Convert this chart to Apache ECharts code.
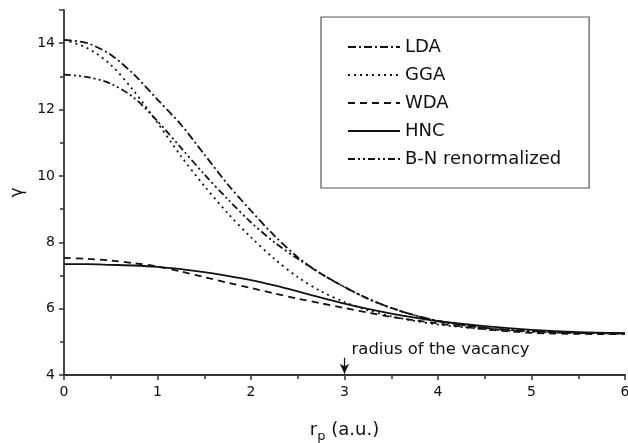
<!DOCTYPE html>
<html>
<head>
<meta charset="utf-8">
<script src="https://cdn.jsdelivr.net/npm/echarts@6/dist/echarts.min.js"></script>
<style>
  html, body { margin: 0; padding: 0; background: #fff; }
  #chart { width: 628px; height: 443px; }
</style>
</head>
<body>
<div id="chart"></div>
<script>
// r_p (a.u.) sample points
var rp = [0, 0.25, 0.5, 0.75, 1.0, 1.25, 1.5, 1.75, 2.0, 2.25, 2.5, 2.75, 3.0, 3.25, 3.5, 3.75, 4.0, 4.5, 5.0, 5.5, 6.0];

var lda = [14.10, 14.00, 13.65, 13.05, 12.30, 11.55, 10.65, 9.75, 8.95, 8.20, 7.55, 7.05, 6.65, 6.30, 6.02, 5.80, 5.63, 5.42, 5.32, 5.27, 5.25];
var gga = [14.10, 13.85, 13.35, 12.55, 11.60, 10.60, 9.70, 8.88, 8.15, 7.50, 6.95, 6.52, 6.20, 5.95, 5.77, 5.63, 5.52, 5.38, 5.30, 5.26, 5.25];
var wda = [7.53, 7.50, 7.45, 7.37, 7.27, 7.12, 6.95, 6.78, 6.62, 6.46, 6.30, 6.16, 6.02, 5.88, 5.75, 5.65, 5.55, 5.38, 5.27, 5.24, 5.23];
var hnc = [7.34, 7.34, 7.32, 7.30, 7.26, 7.19, 7.10, 6.99, 6.86, 6.70, 6.52, 6.33, 6.15, 5.99, 5.85, 5.73, 5.62, 5.47, 5.36, 5.29, 5.26];
var bn  = [13.05, 12.98, 12.78, 12.35, 11.65, 10.85, 10.05, 9.30, 8.60, 8.00, 7.50, 7.05, 6.65, 6.30, 6.02, 5.80, 5.63, 5.42, 5.32, 5.27, 5.25];

var xTicks = [0, 1, 2, 3, 4, 5, 6];
var yTicks = [4, 6, 8, 10, 12, 14];

var vacancyR = 3;

function pairs(ys) {
  return rp.map(function (x, i) { return [x, ys[i]]; });
}

var chart = echarts.init(document.getElementById('chart'));
var font = 'DejaVu Sans, sans-serif';

function line(name, ys, type) {
  return {
    name: name,
    type: 'line',
    data: pairs(ys),
    smooth: 0.3,
    symbol: 'none',
    lineStyle: { color: '#111', width: 1.8, type: type },
    itemStyle: { color: '#111' }
  };
}

var series = [
  line('LDA', lda, [8, 3, 2, 3]),
  line('GGA', gga, [2, 4]),
  line('WDA', wda, [7, 5]),
  line('HNC', hnc, 'solid'),
  line('B-N renormalized', bn, [7, 3, 2, 3, 2, 3])
];

// arrow marking the vacancy radius
series[3].markLine = {
  silent: true,
  symbol: ['none', 'arrow'],
  symbolSize: [7, 10],
  lineStyle: { color: '#111', width: 1.2, type: 'solid' },
  label: { show: false },
  data: [[{ coord: [vacancyR, 4.52] }, { coord: [vacancyR, 4.04] }]]
};
series[3].markPoint = {
  silent: true,
  symbol: 'circle',
  symbolSize: 0,
  label: {
    show: true,
    position: 'right',
    distance: 7,
    offset: [0, 1],
    formatter: 'radius of the vacancy',
    color: '#111',
    fontFamily: font,
    fontSize: 16.5
  },
  data: [{ coord: [vacancyR, 4.78] }]
};

chart.setOption({
  animation: false,
  backgroundColor: '#fff',
  grid: { left: 64, right: 3, top: 10, bottom: 68, outerBoundsMode: 'none', containLabel: false },
  legend: {
    orient: 'vertical',
    left: 321,
    top: 17,
    padding: [21, 28, 20, 26],
    itemWidth: 52,
    itemHeight: 14,
    itemGap: 10,
    borderColor: '#555',
    borderWidth: 1.2,
    itemStyle: { color: 'transparent', borderWidth: 0, opacity: 0 },
    textStyle: { color: '#111', fontFamily: font, fontSize: 18, lineHeight: 16 },
    data: ['LDA', 'GGA', 'WDA', 'HNC', 'B-N renormalized']
  },
  xAxis: {
    type: 'value',
    min: 0,
    max: 6,
    interval: 1,
    name: '{r|r}{s|p}{r| (a.u.)}',
    nameLocation: 'middle',
    nameGap: 43,
    nameTextStyle: {
      rich: {
        r: { fontFamily: font, fontSize: 18, color: '#111' },
        s: { fontFamily: font, fontSize: 13, color: '#111', padding: [12, 0, 0, 0] }
      }
    },
    axisLine: { lineStyle: { color: '#333', width: 1.8 } },
    axisTick: { length: 5, lineStyle: { color: '#333', width: 1.5 } },
    minorTick: { show: true, splitNumber: 2, length: 4, lineStyle: { color: '#333', width: 1.5 } },
    axisLabel: {
      margin: 10, color: '#111', fontFamily: font, fontSize: 14,
      formatter: function (v) { return xTicks.indexOf(v) >= 0 ? String(v) : ''; }
    },
    splitLine: { show: false }
  },
  yAxis: {
    type: 'value',
    min: 4,
    max: 15,
    interval: 2,
    name: 'γ',
    nameLocation: 'middle',
    nameGap: 38,
    nameRotate: 90,
    nameTextStyle: { fontFamily: font, fontSize: 17, color: '#111' },
    axisLine: { lineStyle: { color: '#333', width: 1.8 } },
    axisTick: { length: 5, lineStyle: { color: '#333', width: 1.5 } },
    minorTick: { show: true, splitNumber: 2, length: 4, lineStyle: { color: '#333', width: 1.5 } },
    axisLabel: {
      margin: 9, color: '#111', fontFamily: font, fontSize: 14,
      formatter: function (v) { return yTicks.indexOf(v) >= 0 ? String(v) : ''; }
    },
    splitLine: { show: false }
  },
  series: series
});
</script>
</body>
</html>
